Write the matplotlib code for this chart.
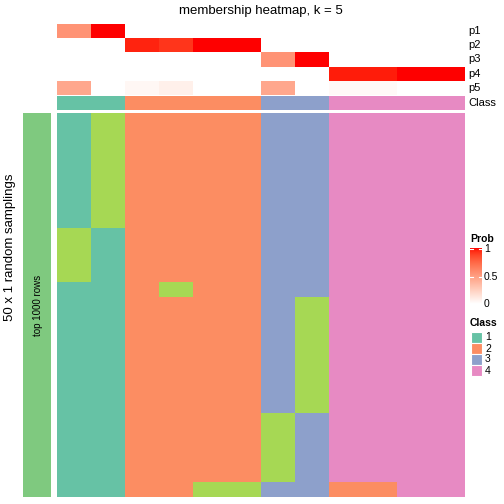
import numpy as np
import matplotlib
matplotlib.use("Agg")
import matplotlib.pyplot as plt
from matplotlib.colors import ListedColormap

plt.rcParams['font.family'] = ['Liberation Sans', 'DejaVu Sans']

# membership probabilities per column (12 samples)
p1 = [0.55, 1, 0, 0, 0, 0, 0, 0, 0, 0, 0, 0]
p2 = [0, 0, 0.96, 0.92, 1, 1, 0, 0, 0, 0, 0, 0]
p3 = [0, 0, 0, 0, 0, 0, 0.55, 1, 0, 0, 0, 0]
p4 = [0, 0, 0, 0, 0, 0, 0, 0, 0.97, 0.97, 1, 1]
p5 = [0.45, 0, 0.04, 0.08, 0, 0, 0.45, 0, 0.03, 0.03, 0, 0]
prob_names = ["p1", "p2", "p3", "p4", "p5"]
final_class = [1, 1, 2, 2, 2, 2, 3, 3, 4, 4, 4, 4]

# class assigned in each of the 50 random samplings, as blocks of identical rows
block_sizes = [15, 7, 2, 15, 9, 2]
block_a = [1, 5, 2, 2, 2, 2, 3, 3, 4, 4, 4, 4]
block_b = [5, 1, 2, 2, 2, 2, 3, 3, 4, 4, 4, 4]
block_c = [1, 1, 2, 5, 2, 2, 3, 3, 4, 4, 4, 4]
block_d = [1, 1, 2, 2, 2, 2, 3, 5, 4, 4, 4, 4]
block_e = [1, 1, 2, 2, 2, 2, 5, 3, 4, 4, 4, 4]
block_f = [1, 1, 2, 2, 5, 5, 3, 3, 2, 2, 4, 4]

class_colors = ["#66C2A5", "#FC8D62", "#8DA0CB", "#E78AC3", "#A6D854"]
legend_classes = ["1", "2", "3", "4"]


# white -> red ramp interpolated in LAB space (like colorRamp2)
def srgb_to_lab(rgb):
    rgb = np.asarray(rgb, float)
    lin = np.where(rgb <= 0.04045, rgb / 12.92, ((rgb + 0.055) / 1.055) ** 2.4)
    m = np.array([[0.4124, 0.3576, 0.1805], [0.2126, 0.7152, 0.0722], [0.0193, 0.1192, 0.9505]])
    xyz = m @ lin / np.array([0.95047, 1.0, 1.08883])
    f = np.where(xyz > 0.008856, np.cbrt(xyz), 7.787 * xyz + 16 / 116)
    return np.array([116 * f[1] - 16, 500 * (f[0] - f[1]), 200 * (f[1] - f[2])])


def lab_to_srgb(lab):
    L, a, b = lab
    fy = (L + 16) / 116
    fx = fy + a / 500
    fz = fy - b / 200
    f = np.array([fx, fy, fz])
    xyz = np.where(f ** 3 > 0.008856, f ** 3, (f - 16 / 116) / 7.787) * np.array([0.95047, 1.0, 1.08883])
    minv = np.array([[3.2406, -1.5372, -0.4986], [-0.9689, 1.8758, 0.0415], [0.0557, -0.2040, 1.0570]])
    lin = minv @ xyz
    rgb = np.where(lin <= 0.0031308, 12.92 * lin, 1.055 * np.clip(lin, 0, None) ** (1 / 2.4) - 0.055)
    return np.clip(rgb, 0, 1)


w_lab = srgb_to_lab([1, 1, 1])
r_lab = srgb_to_lab([1, 0, 0])
ramp = [lab_to_srgb(w_lab + (r_lab - w_lab) * t) for t in np.linspace(0, 1, 256)]
prob_cmap = ListedColormap(ramp)
class_cmap = ListedColormap(class_colors)

W = H = 504
fig = plt.figure(figsize=(5.04, 5.04), dpi=100)


def box(x0, y0, x1, y1):
    return fig.add_axes([x0 / W, 1 - y1 / H, (x1 - x0) / W, (y1 - y0) / H])


ncol = len(final_class)

# probability annotation rows
ax_p = box(57, 24, 465, 95)
probs = np.array([p1, p2, p3, p4, p5])
ax_p.imshow(probs, cmap=prob_cmap, vmin=0, vmax=1, aspect="auto", interpolation="nearest")
ax_p.set_axis_off()
for i, name in enumerate(prob_names):
    fig.text(468 / W, 1 - (24 + 14.2 * (i + 0.5)) / H, name, fontsize=8, va="center", ha="left")

# class annotation row
ax_c = box(57, 96, 465, 110)
ax_c.imshow(np.array([final_class]) - 1, cmap=class_cmap, vmin=-0.5, vmax=4.5, aspect="auto",
            interpolation="nearest")
ax_c.set_axis_off()
fig.text(468 / W, 1 - 103 / H, "Class", fontsize=8, va="center", ha="left")

# main membership heatmap
blocks = [block_a, block_b, block_c, block_d, block_e, block_f]
mat = np.repeat(np.array(blocks), block_sizes, axis=0)
ax_m = box(57, 113, 465, 497)
ax_m.imshow(mat - 1, cmap=class_cmap, vmin=-0.5, vmax=4.5, aspect="auto", interpolation="nearest")
ax_m.set_axis_off()

# left split bar
ax_l = box(23, 113, 51, 497)
ax_l.set_facecolor("#7FC97F")
ax_l.set_xticks([])
ax_l.set_yticks([])
for s in ax_l.spines.values():
    s.set_visible(False)
ax_l.text(0.55, 0.5, "top 1000 rows", rotation=90, fontsize=7, ha="center", va="center",
          transform=ax_l.transAxes)

fig.text(10 / W, 1 - 247 / H, "50 x 1 random samplings", rotation=90, fontsize=9.5,
         ha="center", va="center")
fig.text(261 / W, 1 - 11 / H, "membership heatmap, k = 5", fontsize=9.5, ha="center", va="center")

# Prob legend
fig.text(470 / W, 1 - 239 / H, "Prob", fontsize=7.5, fontweight="bold", ha="left", va="center")
ax_cb = box(470, 248, 482, 304)
ax_cb.imshow(np.linspace(1, 0, 100)[:, None], cmap=prob_cmap, vmin=0, vmax=1, aspect="auto")
ax_cb.set_axis_off()
for val, yy in [("1", 249), ("0.5", 277), ("0", 304)]:
    fig.text(484 / W, 1 - yy / H, val, fontsize=7.5, ha="left", va="center")
    fig.lines.append(plt.Line2D([470 / W, 473 / W], [1 - yy / H, 1 - yy / H],
                                transform=fig.transFigure, color="white", lw=0.8))
    fig.lines.append(plt.Line2D([479 / W, 482 / W], [1 - yy / H, 1 - yy / H],
                                transform=fig.transFigure, color="white", lw=0.8))

# Class legend
fig.text(470 / W, 1 - 323 / H, "Class", fontsize=7.5, fontweight="bold", ha="left", va="center")
for i, lab in enumerate(legend_classes):
    y0 = 332 + 11 * i
    fig.patches.append(plt.Rectangle((471 / W, 1 - (y0 + 11) / H), 11 / W, 11 / H,
                                     transform=fig.transFigure, facecolor=class_colors[i],
                                     edgecolor="white", lw=0.8))
    fig.text(485 / W, 1 - (y0 + 5.5) / H, lab, fontsize=7.5, ha="left", va="center")

fig.savefig("out.png", dpi=100)
